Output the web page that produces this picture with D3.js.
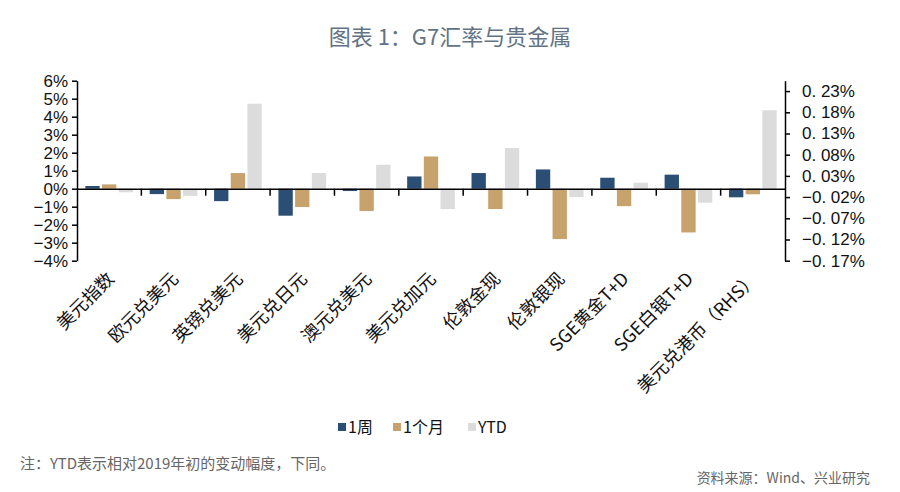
<!DOCTYPE html>
<html><head><meta charset="utf-8">
<script src="https://cdn.jsdelivr.net/npm/d3@7"></script>
<style>body{margin:0;background:#fff}svg{display:block}</style>
</head><body><svg id="c" width="900" height="492"></svg>
<script>
const categories = ["美元指数","欧元兑美元","英镑兑美元","美元兑日元","澳元兑美元","美元兑加元","伦敦金现","伦敦银现","SGE黄金T+D","SGE白银T+D","美元兑港币（RHS）"];
const seriesNames = ["1周","1个月","YTD"];
const week  = [0.15,-0.30,-0.69,-1.50,-0.13,0.68,0.87,1.07,0.61,0.78,-0.0205];
const month = [0.24,-0.58,0.87,-1.02,-1.24,1.79,-1.13,-2.80,-0.97,-2.43,-0.0134];
const ytd   = [-0.20,-0.40,4.72,0.87,1.33,-1.13,2.26,-0.47,0.33,-0.78,0.1847];
const leftTicks = [6,5,4,3,2,1,0,-1,-2,-3,-4];
const rightTicks = [0.23,0.18,0.13,0.08,0.03,-0.02,-0.07,-0.12,-0.17];
const colors = ["#2b4f74","#c8a26d","#dcdcdc"];
const rhsIndex = 10;

const svg = d3.select("#c");
const x0 = 77, x1 = 785, yTop = 80.7, yBot = 260.7;
const x = d3.scaleBand().domain(categories).range([x0,x1]);
const xs = d3.scaleBand().domain(seriesNames).range([0,x.bandwidth()]).paddingInner(0.14).paddingOuter(0.5);
const yL = d3.scaleLinear().domain([-4,6]).range([yBot,yTop]);
const yR = d3.scaleLinear().domain([-0.17,0.2545]).range([yBot,yTop]);

// title
svg.append("text").attr("x",450).attr("y",45).attr("text-anchor","middle")
  .attr("font-family","'Noto Sans CJK SC', 'Noto Sans', sans-serif").attr("font-size",22)
  .attr("fill","#627385").text("图表 1：G7汇率与贵金属");

const data = [week,month,ytd];
const g = svg.append("g");
categories.forEach((c,i)=>{
  const ys = i===rhsIndex ? yR : yL;
  data.forEach((arr,j)=>{
    const v = arr[i];
    g.append("rect").attr("x",x(c)+xs(seriesNames[j])).attr("width",xs.bandwidth())
      .attr("y",Math.min(ys(v),ys(0))).attr("height",Math.abs(ys(v)-ys(0)))
      .attr("fill",colors[j]);
  });
});

const tickFont = "'Liberation Sans', Arial, sans-serif";
// left axis
const la = svg.append("g").attr("transform",`translate(${x0},0)`)
  .call(d3.axisLeft(yL).tickValues(leftTicks).tickSize(5).tickSizeOuter(0).tickPadding(4)
    .tickFormat(d=> (d<0?"−":"")+Math.abs(d)+"%"));
la.select(".domain").attr("stroke","#000").attr("stroke-width",1.5);
la.selectAll(".tick line").attr("stroke","#000").attr("stroke-width",1.5);
la.selectAll("text").attr("font-family",tickFont).attr("font-size",17).attr("fill","#111");

// right axis
const ra = svg.append("g").attr("transform",`translate(${x1},0)`)
  .call(d3.axisRight(yR).tickValues(rightTicks).tickSize(5).tickSizeOuter(0).tickPadding(12)
    .tickFormat(d=> (d<0?"−":"")+"0. "+String(Math.round(Math.abs(d)*100)).padStart(2,"0")+"%"));
ra.select(".domain").attr("stroke","#000").attr("stroke-width",1.5);
ra.selectAll(".tick line").attr("stroke","#000").attr("stroke-width",1.5);
ra.selectAll("text").attr("font-family",tickFont).attr("font-size",17).attr("fill","#111");

// zero axis with category ticks
const xa = svg.append("g").attr("transform",`translate(0,${yL(0)})`)
  .call(d3.axisBottom(x).tickSize(0).tickFormat(""));
xa.select(".domain").attr("stroke","#000").attr("stroke-width",1.5);
xa.selectAll(".tick").remove();
categories.slice(1).forEach(c=>{
  xa.append("line").attr("x1",x(c)).attr("x2",x(c)).attr("y1",0).attr("y2",7)
    .attr("stroke","#000").attr("stroke-width",1.5);
});

// category labels
categories.forEach(c=>{
  const cx = x(c)+x.bandwidth()/2+6;
  svg.append("text").attr("transform",`translate(${cx},280) rotate(-45)`)
    .attr("text-anchor","end").attr("font-family","'Noto Sans CJK SC', sans-serif")
    .attr("font-size",18).attr("fill","#111").text(c);
});

// legend
const leg = svg.append("g").attr("font-family","'Noto Sans CJK SC', sans-serif").attr("font-size",16).attr("fill","#111");
const legX = [338,393,468];
seriesNames.forEach((s,j)=>{
  leg.append("rect").attr("x",legX[j]).attr("y",423).attr("width",8).attr("height",8).attr("fill",colors[j]);
  leg.append("text").attr("x",legX[j]+10).attr("y",433).text(s);
});

// notes
svg.append("text").attr("x",20).attr("y",469).attr("font-family","'Noto Sans CJK SC', sans-serif")
  .attr("font-size",15).attr("fill","#666").text("注：YTD表示相对2019年初的变动幅度，下同。");
svg.append("text").attr("x",870).attr("y",483).attr("text-anchor","end").attr("font-family","'Noto Sans CJK SC', sans-serif")
  .attr("font-size",14).attr("fill","#666").text("资料来源：Wind、兴业研究");
</script></body></html>
